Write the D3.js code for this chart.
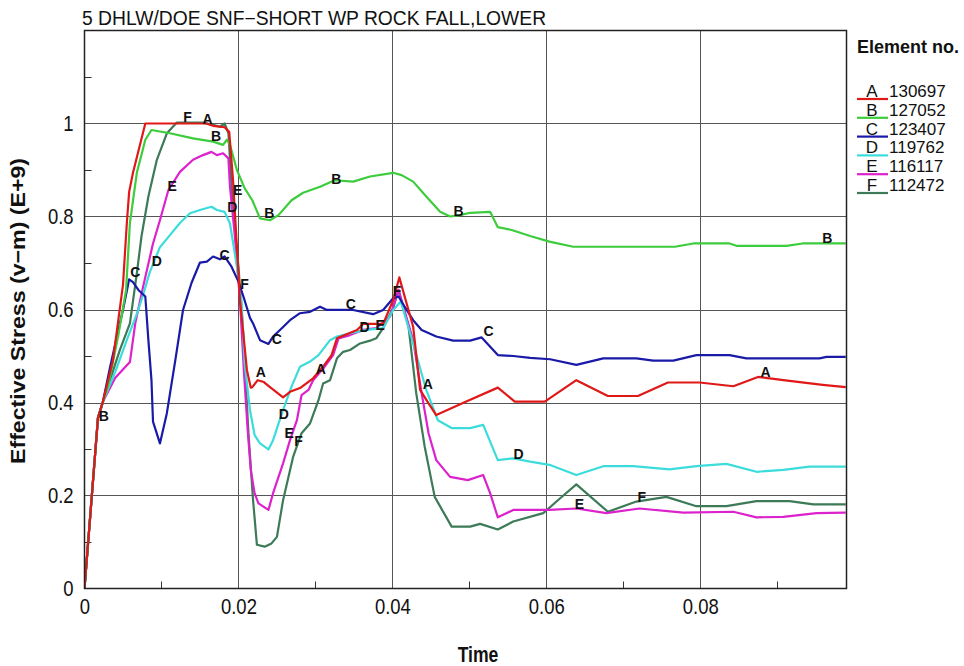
<!DOCTYPE html>
<html>
<head>
<meta charset="utf-8">
<script src="https://cdn.jsdelivr.net/npm/d3@7"></script>
<style>
  html, body { margin: 0; padding: 0; background: #fff; }
  svg { display: block; }
</style>
</head>
<body>
<svg id="chart" width="964" height="666"></svg>
<script>
// Element numbers shown in the legend
const elementIds = ["130697", "127052", "123407", "119762", "116117", "112472"];
const letters = ["A", "B", "C", "D", "E", "F"];
const colors = ["#e01818", "#3ccc3c", "#1a1aa8", "#3cdcdc", "#dc22cc", "#3c7a58"];

const xTicks = [0, 0.02, 0.04, 0.06, 0.08];
const yTicks = [0, 0.2, 0.4, 0.6, 0.8, 1.0];
const xMinor = [0.01, 0.03, 0.05, 0.07, 0.09];
const yMinor = [0.1, 0.3, 0.5, 0.7, 0.9, 1.1];

// Effective stress (E+9) versus time, one list of [time, stress] per element
const seriesA = [[0,0],[.00175,.367],[.0024,.402],[.0037,.491],[.0050,.653],[.0055,.786],[.0058,.853],[.0063,.894],[.0079,1.0],[.0158,1.0],[.0167,.995],[.0182,.992],[.0188,.982],[.0193,.878],[.0202,.620],[.0211,.470],[.0216,.432],[.0218,.433],[.0225,.448],[.0233,.444],[.0241,.433],[.0258,.411],[.0267,.423],[.0280,.431],[.0297,.452],[.0310,.477],[.0321,.502],[.0328,.538],[.0354,.556],[.0362,.569],[.0388,.569],[.0401,.620],[.0409,.669],[.0427,.563],[.0436,.427],[.0447,.398],[.0457,.373],[.0496,.402],[.0537,.432],[.0559,.402],[.0598,.402],[.0639,.448],[.0680,.414],[.0719,.414],[.0758,.443],[.0799,.443],[.0843,.435],[.0875,.455],[.0908,.448],[.0959,.438],[.0989,.433]];

const seriesB = [[0,0],[.00175,.367],[.0024,.402],[.0031,.438],[.0044,.545],[.0054,.642],[.0059,.786],[.0068,.894],[.0079,.965],[.0087,.986],[.0111,.979],[.0141,.968],[.0167,.961],[.0180,.954],[.0185,.965],[.0189,.954],[.0198,.900],[.0208,.861],[.0218,.835],[.0228,.796],[.0241,.792],[.0252,.803],[.0269,.835],[.0284,.851],[.0306,.864],[.0325,.878],[.0349,.875],[.0371,.886],[.0401,.894],[.0412,.889],[.0427,.875],[.0444,.843],[.0462,.810],[.0475,.800],[.0488,.803],[.0501,.808],[.0527,.810],[.0537,.777],[.0555,.771],[.0579,.758],[.0604,.746],[.0635,.735],[.0767,.735],[.0791,.742],[.0838,.742],[.0847,.737],[.0912,.737],[.0933,.742],[.0989,.742]];

const seriesC = [[0,0],[.00175,.367],[.0024,.402],[.0033,.474],[.0044,.556],[.0050,.599],[.0058,.665],[.0063,.659],[.0070,.642],[.0079,.628],[.0083,.534],[.0087,.448],[.0089,.359],[.0098,.312],[.0107,.377],[.0118,.491],[.0128,.599],[.0139,.657],[.0150,.701],[.0159,.703],[.0167,.714],[.0176,.708],[.0182,.714],[.0191,.692],[.0200,.660],[.0208,.620],[.0215,.582],[.0219,.570],[.0228,.534],[.0239,.526],[.0245,.542],[.0254,.556],[.0267,.577],[.0280,.592],[.0293,.595],[.0306,.606],[.0315,.599],[.0349,.599],[.0375,.590],[.0388,.599],[.0401,.624],[.0408,.628],[.0416,.606],[.0427,.577],[.0438,.556],[.0457,.542],[.0479,.533],[.0501,.533],[.0516,.540],[.0537,.502],[.0557,.500],[.0579,.496],[.0605,.493],[.0639,.481],[.0674,.495],[.0717,.495],[.0739,.490],[.0765,.490],[.0795,.502],[.0838,.502],[.0860,.495],[.0955,.495],[.0964,.498],[.0989,.498]];

const seriesD = [[0,0],[.00175,.367],[.0024,.402],[.0040,.466],[.0056,.539],[.0069,.595],[.0076,.631],[.0085,.681],[.0098,.734],[.0111,.760],[.0124,.786],[.0137,.807],[.0150,.814],[.0165,.821],[.0172,.814],[.0182,.810],[.0189,.785],[.0198,.692],[.0204,.620],[.0208,.485],[.0215,.384],[.0221,.330],[.0228,.312],[.0239,.299],[.0245,.319],[.0258,.384],[.0269,.434],[.0280,.477],[.0293,.488],[.0304,.502],[.0319,.534],[.0328,.542],[.0345,.549],[.0366,.556],[.0388,.560],[.0401,.599],[.0411,.617],[.0427,.527],[.0444,.427],[.0459,.362],[.0477,.345],[.0501,.345],[.0518,.352],[.0537,.276],[.0557,.280],[.0579,.273],[.0604,.266],[.0639,.244],[.0674,.263],[.0713,.263],[.0760,.256],[.0795,.263],[.0834,.268],[.0873,.251],[.0908,.255],[.0942,.262],[.0989,.262]];

const seriesE = [[0,0],[.00175,.367],[.0024,.402],[.0040,.453],[.0059,.487],[.0066,.571],[.0076,.648],[.0089,.742],[.0098,.792],[.0109,.857],[.0124,.896],[.0141,.922],[.0154,.932],[.0165,.939],[.0172,.932],[.0180,.936],[.0187,.925],[.0189,.864],[.0195,.764],[.0202,.620],[.0207,.470],[.0212,.341],[.0216,.255],[.0221,.205],[.0226,.183],[.0239,.169],[.0245,.205],[.0258,.269],[.0267,.319],[.0276,.362],[.0282,.416],[.0291,.427],[.0297,.448],[.0312,.477],[.0323,.502],[.0330,.538],[.0345,.545],[.0362,.556],[.0379,.560],[.0397,.585],[.0408,.642],[.0427,.534],[.0438,.420],[.0447,.334],[.0457,.276],[.0475,.240],[.0498,.233],[.0518,.244],[.0527,.205],[.0537,.153],[.0557,.169],[.0604,.169],[.0639,.172],[.0678,.162],[.0721,.172],[.0778,.163],[.0843,.165],[.0873,.153],[.0908,.154],[.0951,.162],[.0989,.163]];

const seriesF = [[0,0],[.00175,.367],[.0024,.402],[.0046,.513],[.0059,.570],[.0068,.678],[.0074,.757],[.0083,.843],[.0094,.922],[.0107,.979],[.0120,1.002],[.0154,1.002],[.0167,.997],[.0176,.993],[.0182,1.0],[.0187,.979],[.0193,.814],[.0200,.692],[.0206,.556],[.0213,.334],[.0219,.190],[.0224,.094],[.0234,.090],[.0243,.097],[.0250,.111],[.0258,.190],[.0271,.283],[.0282,.334],[.0293,.355],[.0304,.405],[.0310,.441],[.0319,.448],[.0328,.495],[.0336,.509],[.0345,.513],[.0358,.527],[.0371,.533],[.0379,.538],[.0388,.560],[.0401,.603],[.0408,.642],[.0421,.563],[.0431,.420],[.0442,.305],[.0455,.197],[.0477,.133],[.0501,.133],[.0514,.139],[.0537,.127],[.0557,.144],[.0596,.162],[.0618,.194],[.0639,.224],[.0680,.165],[.0717,.187],[.0756,.197],[.0795,.177],[.0834,.177],[.0873,.188],[.0916,.188],[.0947,.181],[.0989,.181]];

// Letter markers placed along each curve, [time, stress]
const labelsA = [[.0160,1.010],[.0229,.466],[.0307,.472],[.0446,.440],[.0885,.466]];
const labelsB = [[.0025,.371],[.0171,.973],[.0240,.808],[.0327,.881],[.0486,.812],[.0965,.754]];
const labelsC = [[.0066,.681],[.0182,.717],[.0250,.537],[.0346,.612],[.0525,.554]];
const labelsD = [[.0094,.704],[.0192,.820],[.0259,.375],[.0364,.562],[.0564,.289]];
const labelsE = [[.0114,.866],[.0199,.857],[.0266,.334],[.0384,.567],[.0643,.182]];
const labelsF = [[.0134,1.014],[.0208,.655],[.0278,.318],[.0406,.640],[.0724,.197]];

const allSeries = [seriesA, seriesB, seriesC, seriesD, seriesE, seriesF];
const allLabels = [labelsA, labelsB, labelsC, labelsD, labelsE, labelsF];

const margin = { left: 84.5, right: 846.5, top: 30.5, bottom: 588.5 };
const svg = d3.select("#chart");
svg.append("rect").attr("width", 964).attr("height", 666).attr("fill", "#fff");

const x = d3.scaleLinear().domain([0, 0.099]).range([margin.left, margin.right]);
const y = d3.scaleLinear().domain([0, 1.2]).range([margin.bottom, margin.top]);

const sans = "'Liberation Sans', Arial, sans-serif";

// Grid lines
const grid = svg.append("g").attr("stroke", "#555").attr("stroke-width", 1);
grid.selectAll(".gx").data(xTicks.filter(d => d > 0)).join("line")
  .attr("x1", d => Math.round(x(d)) + 0.5).attr("x2", d => Math.round(x(d)) + 0.5)
  .attr("y1", margin.top).attr("y2", margin.bottom);
grid.selectAll(".gy").data(yTicks.filter(d => d > 0)).join("line")
  .attr("y1", d => Math.round(y(d)) + 0.5).attr("y2", d => Math.round(y(d)) + 0.5)
  .attr("x1", margin.left).attr("x2", margin.right);

// Minor ticks inside the frame
const minor = svg.append("g").attr("stroke", "#333").attr("stroke-width", 1);
minor.selectAll(".mx").data(xMinor).join("line")
  .attr("x1", d => Math.round(x(d)) + 0.5).attr("x2", d => Math.round(x(d)) + 0.5)
  .attr("y1", margin.bottom).attr("y2", margin.bottom - 7);
minor.selectAll(".my").data(yMinor).join("line")
  .attr("y1", d => Math.round(y(d)) + 0.5).attr("y2", d => Math.round(y(d)) + 0.5)
  .attr("x1", margin.left).attr("x2", margin.left + 7);

// Axes (labels only; the frame draws the lines), set in a condensed face
const xAxis = d3.axisBottom(x).tickValues(xTicks).tickSize(0).tickPadding(10)
  .tickFormat(d => d === 0 ? "0" : d3.format(".2f")(d));
const gx = svg.append("g").attr("transform", `translate(0,${margin.bottom})`).call(xAxis);
gx.select(".domain").remove();
gx.selectAll("text").attr("font-family", sans).attr("font-size", 22).attr("fill", "#111")
  .attr("transform", "scale(0.84,1)");

const yAxis = d3.axisLeft(y).tickValues(yTicks).tickSize(0).tickPadding(13)
  .tickFormat(d => d === 0 ? "0" : d === 1 ? "1" : d3.format(".1f")(d));
const gy = svg.append("g").attr("transform", `translate(${margin.left},0)`).call(yAxis);
gy.select(".domain").remove();
gy.selectAll("text").attr("font-family", sans).attr("font-size", 22).attr("fill", "#111")
  .attr("transform", "scale(0.84,1)");

// Clip for the curves
svg.append("clipPath").attr("id", "plotClip").append("rect")
  .attr("x", margin.left).attr("y", margin.top)
  .attr("width", margin.right - margin.left).attr("height", margin.bottom - margin.top);

const line = d3.line().x(d => x(d[0])).y(d => y(d[1]));
const curves = svg.append("g").attr("clip-path", "url(#plotClip)");
// Draw F first so the brighter curves sit on top
[5, 4, 3, 2, 1, 0].forEach(i => {
  curves.append("path").datum(allSeries[i])
    .attr("d", line).attr("fill", "none")
    .attr("stroke", colors[i]).attr("stroke-width", 2.2)
    .attr("stroke-linejoin", "round");
});

// Frame
svg.append("rect").attr("x", margin.left).attr("y", margin.top)
  .attr("width", margin.right - margin.left).attr("height", margin.bottom - margin.top)
  .attr("fill", "none").attr("stroke", "#222").attr("stroke-width", 1.5);

// Letter markers on curves
const marks = svg.append("g").attr("font-family", sans).attr("font-weight", "bold")
  .attr("font-size", 14).attr("fill", "#111").attr("text-anchor", "middle");
allLabels.forEach((pts, i) => {
  marks.selectAll(null).data(pts).join("text")
    .attr("x", d => x(d[0])).attr("y", d => y(d[1]) + 5)
    .text(letters[i]);
});

// Title
svg.append("text").attr("x", 82).attr("y", 25)
  .attr("font-family", sans).attr("font-size", 19.3).attr("fill", "#111")
  .text("5 DHLW/DOE SNF\u2212SHORT WP ROCK FALL,LOWER");

// Axis titles
svg.append("text").attr("transform", "translate(478,662) scale(0.8,1)").attr("text-anchor", "middle")
  .attr("font-family", sans).attr("font-weight", "bold").attr("font-size", 22).attr("fill", "#111")
  .text("Time");
svg.append("text").attr("transform", "translate(25,311) rotate(-90)").attr("text-anchor", "middle")
  .attr("font-family", sans).attr("font-weight", "bold").attr("font-size", 20).attr("fill", "#111")
  .attr("textLength", 306).attr("lengthAdjust", "spacingAndGlyphs")
  .text("Effective Stress (v\u2212m) (E+9)");

// Legend
const legend = svg.append("g").attr("font-family", sans).attr("fill", "#111");
legend.append("text").attr("x", 857).attr("y", 53).attr("font-weight", "bold").attr("font-size", 18)
  .text("Element no.");
const legendY = d3.scalePoint().domain(letters).range([97, 191]);
letters.forEach((l, i) => {
  const by = legendY(l);
  legend.append("line").attr("x1", 857).attr("x2", 888).attr("y1", by + 2).attr("y2", by + 2)
    .attr("stroke", colors[i]).attr("stroke-width", 2.2);
  legend.append("text").attr("x", 872).attr("y", by).attr("text-anchor", "middle")
    .attr("font-size", 17).text(l);
  legend.append("text").attr("x", 889).attr("y", by).attr("font-size", 17).text(elementIds[i]);
});
</script>
</body>
</html>
